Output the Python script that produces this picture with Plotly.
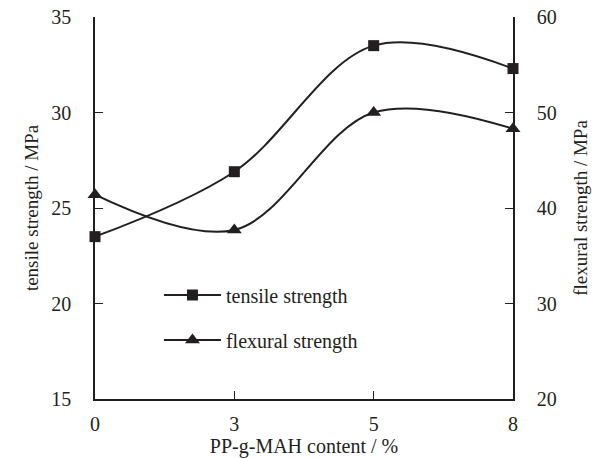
import plotly.graph_objects as go

categories = ["0", "3", "5", "8"]
tensile = [23.5, 26.9, 33.5, 32.3]
flexural = [41.4, 37.7, 50.0, 48.3]

xpos = list(range(len(categories)))
FONT = "Liberation Serif, Times New Roman, serif"
INK = "#231f20"

fig = go.Figure()
fig.add_trace(go.Scatter(
    x=xpos, y=tensile, name="tensile strength", legendgroup="a",
    mode="lines+markers", line=dict(color=INK, width=2, shape="spline", smoothing=1),
    marker=dict(symbol="square", size=11, color=INK), cliponaxis=False,
))
fig.add_trace(go.Scatter(
    x=xpos, y=flexural, name="flexural strength", legendgroup="b", yaxis="y2",
    mode="lines+markers", line=dict(color=INK, width=2, shape="spline", smoothing=1),
    marker=dict(symbol="triangle-up", size=13, color=INK), cliponaxis=False,
))

fig.update_layout(
    width=603, height=458,
    margin=dict(l=95, r=90, t=17, b=59),
    paper_bgcolor="white", plot_bgcolor="white",
    font=dict(family=FONT, size=20, color=INK),
    showlegend=True,
    legend=dict(x=0.153, y=0.323, xanchor="left", yanchor="top",
                traceorder="grouped", tracegroupgap=16, itemwidth=57,
                bgcolor="rgba(0,0,0,0)", font=dict(size=20)),
    xaxis=dict(
        range=[0, len(categories) - 1], tickmode="array", tickvals=xpos, ticktext=categories,
        showline=True, linecolor=INK, linewidth=1.5, ticks="inside", ticklen=8,
        tickcolor=INK, showgrid=False, zeroline=False, ticklabelstandoff=6,
        automargin=False,
        title=dict(text="PP-g-MAH content / %", font=dict(size=20), standoff=6),
    ),
    yaxis=dict(
        range=[15, 35], dtick=5, showline=True, linecolor=INK, linewidth=1.5,
        ticks="inside", ticklen=8, tickcolor=INK, showgrid=False, zeroline=False,
        ticklabelstandoff=18, automargin=False,
        title=dict(text="tensile strength / MPa", font=dict(size=19), standoff=8),
    ),
    yaxis2=dict(
        range=[20, 60], dtick=10, overlaying="y", side="right", showline=True,
        linecolor=INK, linewidth=1.5, ticks="inside", ticklen=8, tickcolor=INK,
        showgrid=False, zeroline=False, ticklabelstandoff=18, automargin=False,
        title=dict(text="flexural strength / MPa", font=dict(size=19), standoff=18),
    ),
)

fig.write_html("out.html")
